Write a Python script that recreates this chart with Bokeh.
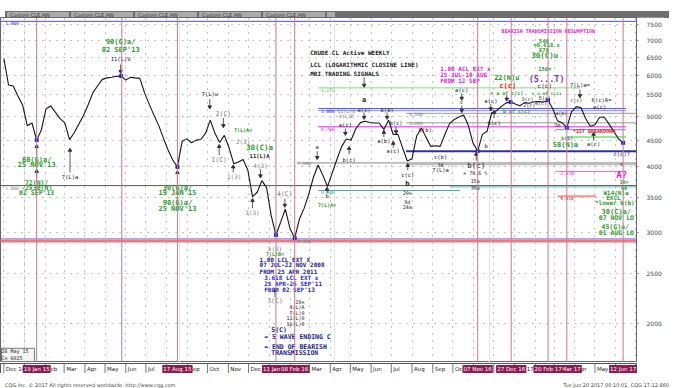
import pandas as pd
from bokeh.plotting import figure
from bokeh.models import (ColumnDataSource, Range1d, FixedTicker, Grid, Span, Label, Div,
                          NumeralTickFormatter)
from bokeh.layouts import column
from bokeh.embed import file_html
from bokeh.resources import INLINE
from bokeh.core.properties import value

# ---------------- data ----------------
START = "2014-12-01"          # first weekly bar (Monday)
CLOSE = [6463, 5746, 5721, 5472, 5260, 4800, 4857, 4503, 4708, 5175,
         5238, 5091, 4952, 4859, 4512, 4653, 4838, 5027, 5270, 5556,
         5727, 5890, 5929, 5947, 5970, 5979, 5872, 5942, 5929, 5917,
         5548, 5274, 5029, 4806, 4549, 4312, 4125, 4000, 4479, 4528,
         4451, 4503, 4515, 4643, 4920, 4640, 4456, 4598, 4358, 4057,
         4088, 4133, 3947, 3508, 3576, 3765, 3650, 3221, 2960, 3133,
         3321, 3044, 2920, 3177, 3330, 3548, 3826, 4034, 3853, 3667,
         3895, 4138, 4376, 4526, 4499, 4730, 4865, 4894, 4868, 4857,
         4857, 4722, 4918, 4616, 4620, 4350, 4106, 4149, 4587, 4752,
         4558, 4380, 4391, 4380, 4616, 4844, 4933, 4989, 5031, 4808,
         4446, 4290, 4619, 4682, 5083, 5128, 5221, 5303, 5331, 5285,
         5242, 5314, 5300, 5335, 5340, 5327, 5370, 5173, 4908, 4860,
         4760, 5102, 5221, 5203, 4954, 4788, 4820, 4981, 4983, 4834,
         4680, 4530, 4448]
PIVOTS = [7, 25, 37, 58, 62, 101, 108, 116, 120, 132]
PRICE_TICKS = [2000, 2500, 3000, 3500, 4000, 4500, 5000, 5500, 6000, 6500, 7000, 7500]
HL_DATES = ["2015-01-19", "2015-08-17", "2016-01-11", "2016-02-08", "2016-11-07",
            "2016-12-27", "2017-03-20", "2017-02-20", "2017-06-12"]
HL_TEXT = ["19 Jan 15", "17 Aug 15", "11 Jan 16", "08 Feb 16", "07 Nov 16",
           "27 Dec 16", "20 Mar 17", "20 Feb 17", "12 Jun 17"]
CURSOR_DATE = "2015-05-26"
LAST = 4448

WEEK = 7 * 86400000.0
T0 = pd.Timestamp(START).value / 1e6


def wk(n):
    return T0 + n * WEEK


def ms(d):
    return pd.Timestamp(d).value / 1e6


dates = pd.date_range(START, periods=len(CLOSE), freq="7D")
xs = [d.value / 1e6 for d in dates]

G, K, Y, N, B, M, R, P, T = ("#2b9a2b", "#222222", "#7d7d7d", "#1c1c8a", "#2323e0",
                             "#e01ccf", "#e01c1c", "#7a3a9a", "#2f9a9a")

# level lines: price, from week, to week, colour, width
LEVELS = [
    (7613, -2, 140, "#4a4aff", 1), (3683, -2, 140, "#555555", 1),
    (2910, -2, 140, "#6a6aff", 1), (2882, -2, 140, "#f07a7a", 3),
    (5673, 67, 122.8, "#7ee07e", 1), (5177, 67, 132.6, "#5050ff", 1),
    (5130, 67, 132.6, "#8c8cff", 1), (4775, 67, 132.6, "#ff60ff", 1.5),
    (3604, 67, 97.2, "#40b0b0", 1), (4071, 62.4, 140, "#888888", 1),
    (4058, 85.7, 140, "#bdbdbd", 3), (4287, 85.7, 140, "#30309a", 2),
    (5069, 85.7, 140, "#9a9a9a", 1), (4861, 85.7, 140, "#9a9a9a", 1),
    (3920, 117.6, 132.6, "#ff60ff", 1), (3514, 118, 126.3, "#ff9090", 2),
    (3662, 95, 140, "#60c0c0", 1), (4565, 120, 132.6, "#90ee90", 2),
    (4716, 117.6, 132.6, "#8080ff", 1),
]

# annotations: week, price, text, colour, size px, bold, align
ANN = [
    (24.9, 6941, "90(G)a/", G, 7, 1, "c"), (24.9, 6712, "02 SEP'13", G, 7, 1, "c"),
    (24.9, 6436, "11(L)9", K, 5.5, 0, "c"),
    (7.0, 4130, "60(G)a/", G, 7, 1, "c"), (7.0, 4026, "25 NOV'13", G, 7, 1, "c"),
    (7.0, 3727, "72(N)/", G, 6.5, 1, "c"), (7.0, 3640, "-2x30(N)", G, 6.5, 1, "c"),
    (7.0, 3565, "02 SEP'13", G, 6.5, 1, "c"),
    (14.1, 3829, "7(L)a", K, 5.5, 0, "c"),
    (37.0, 3640, "30(G)a/", G, 7, 1, "c"), (37.0, 3557, "19 JAN'15", G, 7, 1, "c"),
    (37.0, 3491, "+", G, 6, 1, "c"), (37.0, 3404, "90(G)a/", G, 7, 1, "c"),
    (37.0, 3320, "25 NOV'13", G, 7, 1, "c"),
    (43.9, 5512, "7(L)w", K, 5.5, 0, "c"), (46.8, 5048, "2(C)", Y, 6.5, 0, "c"),
    (51.0, 4702, "7(L)A=", G, 5, 1, "c"), (51.0, 4471, "2(3)", Y, 6, 0, "c"),
    (54.5, 4360, "30(C)a", G, 7.5, 1, "c"), (54.5, 4198, "11(L)A", K, 5.5, 1, "c"),
    (54.7, 4026, "4(3)", Y, 6, 0, "c"), (45.9, 4128, "1(C)", Y, 6.5, 0, "c"),
    (49.1, 3829, "1(3)", Y, 6, 0, "c"), (53.0, 3265, "3(3)", Y, 6, 0, "c"),
    (59.9, 3550, "4(C)", Y, 6.5, 0, "c"), (57.8, 2786, "5(3)", Y, 6, 0, "c"),
    (57.8, 2727, "7(L)B=", G, 5, 1, "c"),
    (54.5, 2652, "1.00 LCL EXT X", N, 6, 1, "l"),
    (54.5, 2593, "07 JUL-22 NOV 2008", N, 6, 1, "l"),
    (54.5, 2522, "FROM 25 APR 2011", N, 6, 1, "l"),
    (55.5, 2449, "3.618 LCL EXT x", B, 6, 1, "l"),
    (55.5, 2389, "25 APR-26 SEP'11", B, 6, 1, "l"),
    (55.5, 2330, "FROM 02 SEP'13", B, 6, 1, "l"),
    (57.8, 2213, "3(C)", Y, 6.5, 0, "c"),
    (64.1, 2203, "20=", K, 5, 0, "r"), (64.1, 2150, "4(L)A", K, 5, 0, "r"),
    (64.1, 2100, "7(L)0", K, 5, 0, "r"), (64.1, 2049, "11(L)0", K, 5, 0, "r"),
    (64.1, 1998, "16(L)0", K, 5, 0, "r"),
    (57.0, 1943, "5(C)", N, 6.5, 1, "l"), (55.5, 1887, "= 5 WAVE ENDING C", N, 6.5, 1, "l"),
    (55.5, 1805, "= END OF BEARISH", N, 6.5, 1, "l"), (57.0, 1758, "TRANSMISSION", N, 6.5, 1, "l"),
    (62.6, 2880, "0.000", Y, 4.5, 0, "l"),
    (65.3, 6628, "CRUDE CL Active WEEKLY", K, 6, 1, "l"),
    (65.3, 6302, "LCL (LOGARITHMIC CLOSINE LINE)", K, 6, 1, "l"),
    (65.3, 6043, "MRI TRADING SIGNALS", K, 6, 1, "l"),
    (66.8, 4360, "a", K, 5.5, 0, "c"), (62.6, 4071, "1.000", Y, 4.5, 0, "l"),
    (68.9, 3514, "b", K, 5.5, 0, "c"), (68.9, 3380, "7(L)A=", G, 5, 1, "c"),
    (73.0, 5112, "11(L)8", Y, 5, 0, "c"), (73.0, 5003, "4(L)8", Y, 5, 0, "c"),
    (72.8, 4816, "a(c)", K, 5.5, 0, "c"), (73.6, 4130, "b(c)", K, 5.5, 0, "c"),
    (76.8, 5386, "a", K, 7, 1, "c"), (76.8, 5151, "a(c)", K, 5.5, 0, "c"),
    (81.7, 5151, "b(b)", K, 5.5, 0, "c"), (83.6, 4861, "b(c)", K, 5.5, 0, "c"),
    (81.0, 4490, "a(b)", K, 5.5, 0, "c"), (83.0, 4287, "a(c)", K, 5.5, 0, "c"),
    (86.1, 3855, "c(c)", K, 5.5, 0, "c"), (86.0, 3702, "b", K, 7, 1, "c"),
    (86.0, 3557, "20=", K, 5, 0, "c"), (86.0, 3420, "9d", K, 5, 0, "c"),
    (86.0, 3349, "24a", K, 5, 0, "c"),
    (89.8, 4716, "b(b)", K, 5.5, 0, "c"), (93.1, 4179, "c(b)", K, 5.5, 0, "c"),
    (93.1, 4030, "3A", K, 5, 0, "c"), (93.1, 3942, "7(L)a", K, 5.5, 0, "c"),
    (67.6, 5629, "1.272", "#40c040", 4.5, 0, "l"), (67.6, 5130, "1.000", B, 4.5, 0, "l"),
    (67.6, 4735, "0.786", M, 4.5, 0, "l"), (67.6, 3574, "0.000", T, 4.5, 0, "l"),
    (86.4, 5044, "0.500", Y, 4.5, 0, "l"), (86.4, 4861, "1.000", Y, 4.5, 0, "l"),
    (0.3, 7550, "1.000", B, 4.5, 0, "l"), (0.3, 3640, "1.000", Y, 4.5, 0, "l"),
    (93.0, 6171, "1.00 ACL EXT x", M, 6, 1, "l"), (93.0, 6017, "25 JUL-18 AUG", M, 6, 1, "l"),
    (93.0, 5870, "FROM 12 SEP", M, 6, 1, "l"),
    (97.6, 5629, "a(c)", K, 5.5, 0, "c"), (97.6, 5327, "c", K, 5.5, 0, "c"),
    (100.7, 4026, "b(c)", K, 7.5, 0, "c"), (100.5, 3887, "= 78.6 %", K, 5, 0, "c"),
    (100.5, 3764, "15a", K, 5, 0, "c"), (100.5, 3640, "39a", K, 5, 0, "c"),
    (107.2, 5917, "22(N)u", G, 7, 1, "c"), (107.4, 5721, "c(c)", R, 7, 1, "c"),
    (107.2, 5556, "= a of c(c)", G, 5, 1, "c"),
    (103.8, 5349, "a(c)", K, 5.5, 0, "c"), (104.5, 4861, "b(c)", K, 5.5, 0, "c"),
    (102.8, 4378, "b", K, 5.5, 0, "c"), (109.3, 5112, "b of c(c)", G, 5, 1, "c"),
    (115.1, 7000, "540", G, 5.5, 1, "c"), (115.7, 6857, "=0.618 x", G, 5.5, 1, "c"),
    (115.1, 6712, "870", G, 5.5, 1, "c"), (115.3, 6546, "30(C)u", G, 7.5, 1, "c"),
    (115.3, 6171, "150=", G, 5.5, 1, "c"), (115.7, 5896, "(S...T)", P, 8.5, 1, "c"),
    (115.3, 5721, "c(c)", K, 6, 0, "c"), (115.7, 5540, "= c of c(c)", G, 4.5, 1, "c"),
    (115.3, 5422, "5(c)", K, 5, 0, "c"), (111.6, 5400, "3(c)", K, 5, 0, "c"),
    (112.0, 5250, "2(c)", K, 5, 0, "c"), (114.5, 5300, "4(c)", K, 5, 0, "c"),
    (122.8, 5756, "7(L)a=", K, 5.5, 0, "c"), (122.0, 5373, "c(c)", K, 5, 0, "c"),
    (127.4, 5373, "6(c)A=", K, 5.5, 0, "c"), (127.0, 5206, "a(c)", K, 5.5, 0, "c"),
    (121.3, 4696, "*1ST BREAKDOWN", R, 5, 1, "l"), (119.7, 4409, "58(N)a", G, 7, 1, "c"),
    (125.7, 4427, "a(c)", K, 5.5, 0, "c"), (118.8, 5069, "a(b)", K, 5, 0, "c"),
    (118.0, 4816, "3m", K, 5, 0, "c"), (120.1, 4541, "b(b)", K, 5, 0, "c"),
    (131.7, 4231, "c(c)?", K, 5.5, 0, "c"), (131.7, 4046, "c", K, 5.5, 0, "c"),
    (131.7, 3855, "A?", M, 9, 1, "c"), (132.2, 3742, "30=", G, 5, 1, "c"),
    (132.2, 3640, "6A", G, 5, 1, "c"),
    (127.8, 3574, "W14(N)a", G, 6, 1, "l"), (128.4, 3494, "EXCL", G, 6, 1, "l"),
    (126.0, 3420, "*lower b(b)", G, 6, 1, "l"), (127.4, 3277, "30(C)a/", G, 7, 1, "l"),
    (126.8, 3197, "07 NOV LO", G, 6.5, 1, "l"), (127.4, 3066, "45(G)a/", G, 6.5, 1, "l"),
    (126.8, 2990, "01 AUG LO", G, 6.5, 1, "l"),
    (118.6, 3890, "2.618", M, 4.5, 0, "l"), (118.6, 3480, "4.618", R, 4.5, 0, "l"),
    (106.1, 7300, "BEARISH TRANSMISSION RESUMPTION", M, 5, 1, "l"),
]

# arrows: week, from price, to price (head)
ARROWS = [
    (24.9, 6290, 6102), (7.0, 4214, 4378), (7.0, 3806, 3922), (14.1, 3902, 4306),
    (37.0, 3727, 3902), (43.9, 5398, 5215), (46.8, 4964, 4801), (45.9, 4215, 4378),
    (48.9, 3902, 4000), (53.0, 3334, 3447), (59.9, 3477, 3376), (54.7, 3959, 3845),
    (57.8, 2250, 2315), (66.8, 4287, 4170), (68.9, 3565, 3625), (72.8, 4740, 4640),
    (73.6, 4231, 4340), (76.8, 5087, 4980), (81.7, 5087, 4980), (83.6, 4772, 4673),
    (81.0, 4565, 4662), (83.0, 4355, 4440), (86.1, 3942, 4026), (76.8, 5950, 5740),
    (97.6, 5540, 5420), (97.6, 5250, 5130), (100.7, 4111, 4231), (107.2, 5493, 5398),
    (103.8, 5280, 5170), (104.5, 4960, 5087), (122.8, 5630, 5480), (125.7, 4490, 4620),
]

# ---------------- main chart ----------------
W = 664
p = figure(width=W, height=345, x_range=Range1d(wk(-0.71), wk(134.85)),
           y_range=Range1d(1685, 7743), y_axis_type="log", y_axis_location="right",
           x_axis_location=None, output_backend="svg", toolbar_location=None,
           min_border_left=0, min_border_right=28, min_border_top=0, min_border_bottom=0,
           background_fill_color="white", border_fill_color="white")
p.outline_line_color = "#666666"
p.yaxis.ticker = FixedTicker(ticks=PRICE_TICKS)
p.yaxis.formatter = NumeralTickFormatter(format="0")
p.yaxis.major_label_text_font_size = "6px"
p.yaxis.major_label_text_color = "#444444"
p.yaxis.major_label_text_font = "DejaVu Sans"
p.yaxis.major_label_standoff = 8
p.yaxis.major_tick_out = 2
p.yaxis.major_tick_in = 0
p.yaxis.minor_tick_line_color = None
p.yaxis.axis_line_color = "#666666"
p.yaxis.major_tick_line_color = "#888888"
p.ygrid.ticker = FixedTicker(ticks=PRICE_TICKS)
p.ygrid.grid_line_color = "#8a8a8a"
p.ygrid.grid_line_dash = "1 6"

months = pd.date_range("2014-12-01", "2017-07-01", freq="MS")
month_ms = [m.value / 1e6 for m in months]
p.add_layout(Grid(dimension=0, ticker=FixedTicker(ticks=month_ms),
                  grid_line_color="#8a8a8a", grid_line_dash="1 6"))

lv = ColumnDataSource(dict(x0=[wk(l[1]) for l in LEVELS], x1=[wk(l[2]) for l in LEVELS],
                           y=[l[0] for l in LEVELS], c=[l[3] for l in LEVELS],
                           w=[l[4] for l in LEVELS]))
p.segment(x0="x0", y0="y", x1="x1", y1="y", line_color="c", line_width="w", source=lv)

for d in HL_DATES + [CURSOR_DATE]:
    p.add_layout(Span(location=ms(d), dimension="height", line_color="#c47a98", line_width=1))

p.line(xs, CLOSE, line_color="#151515", line_width=1.1)
p.scatter([xs[i] for i in PIVOTS], [CLOSE[i] for i in PIVOTS], marker="square", size=3,
          color="#2020c0")

# arrows
ax = [wk(a[0]) for a in ARROWS]
p.segment(x0=ax, y0=[a[1] for a in ARROWS], x1=ax, y1=[a[2] for a in ARROWS],
          line_color="#333333", line_width=0.8)
p.scatter(ax, [a[2] for a in ARROWS], size=3.5, color="#333333",
          marker=["triangle" if a[2] > a[1] else "inverted_triangle" for a in ARROWS])

al = {"c": "center", "l": "left", "r": "right"}
ts = ColumnDataSource(dict(x=[wk(a[0]) for a in ANN], y=[a[1] for a in ANN],
                           txt=[a[2] for a in ANN], tcol=[a[3] for a in ANN],
                           fsize=["%spx" % a[4] for a in ANN],
                           fstyle=["bold" if a[5] else "normal" for a in ANN],
                           talign=[al[a[6]] for a in ANN]))
p.text(x="x", y="y", text="txt", source=ts, text_color="tcol", text_font_size="fsize",
       text_font_style="fstyle", text_align="talign", text_baseline="middle",
       text_font=value("DejaVu Sans Mono"))

# price boxes on the right axis
for yv, txt, bg in [(7613, "7613", "#2020ff"), (LAST, str(LAST), "#000000"),
                    (2925, "2925", "#e02020"), (2880, "2902", "#6a1a8a")]:
    p.add_layout(Label(x=637, x_units="screen", y=yv, text=txt, text_color="white",
                       background_fill_color=bg, text_font_size="6px",
                       text_font="DejaVu Sans", text_baseline="middle",
                       text_align="left", x_offset=4))

p.add_layout(Label(x=1, y=1, x_units="screen", y_units="screen", text="26 May 15\nC=     6025",
                   text_font_size="5px", text_font="DejaVu Sans Mono",
                   border_line_color="#777777", background_fill_color="#f4f4f4",
                   text_color="#222222"))

# ---------------- date band ----------------
band = figure(width=W, height=11, x_range=p.x_range, y_range=Range1d(0, 1),
              x_axis_location=None, y_axis_location=None, output_backend="svg",
              toolbar_location=None, min_border_left=0, min_border_right=28,
              min_border_top=0, min_border_bottom=0, outline_line_color="#555555")
band.grid.visible = False
mlab = [m.strftime("%b %y") if (i == 0 or m.month == 1) else m.strftime("%b")
        for i, m in enumerate(months)]
band.segment(x0=month_ms, y0=0, x1=month_ms, y1=1, line_color="#777777")
band.text(x=month_ms, y=0.5, text=mlab, text_font_size="5.5px", text_baseline="middle",
          x_offset=2, text_font=value("DejaVu Sans"), text_color="#222222")
band.text(x=[ms(d) for d in HL_DATES], y=0.5, text=HL_TEXT, text_align="center",
          text_baseline="middle", text_color="white", text_font_size="5.5px",
          text_font=value("DejaVu Sans"), background_fill_color="#8e1b4f", padding=1)

# ---------------- tabs and footer ----------------
tab = ('<div style="width:62px;height:6px;background:#ababab;color:#333;font:5px DejaVu Sans;'
       'line-height:6px;padding-left:3px;border-radius:1px 1px 0 0">Custom CLE,AW</div>')
tabs = Div(text='<div style="display:flex;gap:2px;align-items:flex-end;height:7px;'
                'background:#6f6f6f;padding-left:2px;overflow:hidden;width:664px">'
                + tab * 5 + '<div style="width:8px;height:6px;background:#ababab"></div></div>',
           width=W, height=7)
footer = Div(text='<div style="position:relative;width:664px;height:9px;font:5px DejaVu Sans;'
                  'color:#444;line-height:9px;white-space:nowrap">'
                  '<span style="position:absolute;left:0">CQG Inc. &copy; 2017 All rights reserved '
                  'worldwide. http://www.cqg.com</span><span style="position:absolute;right:0">'
                  'Tue Jun 20 2017 00:10:01, CQG 17.12.860</span></div>', width=W, height=9)

layout = column(tabs, p, band, footer, spacing=0)
open("out.html", "w").write(file_html(layout, INLINE, "CRUDE CL Active WEEKLY"))
